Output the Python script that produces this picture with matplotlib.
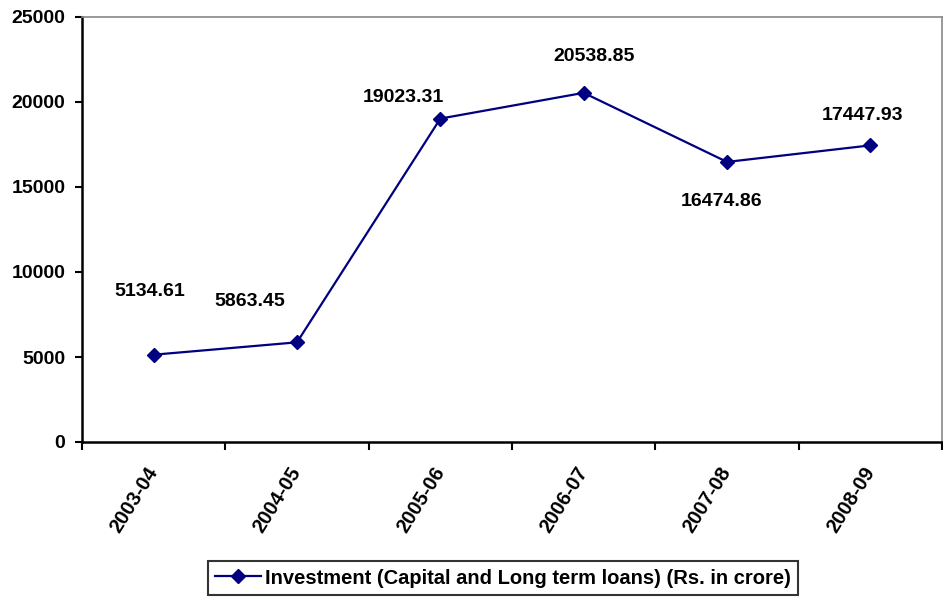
import matplotlib.pyplot as plt

plt.rcParams['font.family'] = ['Liberation Sans', 'DejaVu Sans']
plt.rcParams['font.weight'] = 'bold'

years = ["2003-04", "2004-05", "2005-06", "2006-07", "2007-08", "2008-09"]
investment = [5134.61, 5863.45, 19023.31, 20538.85, 16474.86, 17447.93]
# label offsets in points (dx, dy) relative to each point
label_offsets = [(-2.5, 45.5), (-34, 29.5), (-26.5, 15.5), (7.8, 26), (-3.6, -28.6), (-5.8, 21.6)]

fig = plt.figure(figsize=(9.43, 5.98), dpi=100)
ax = fig.add_axes([82 / 943, 1 - 442 / 598, 860 / 943, 425 / 598])

x = list(range(len(years)))
ax.plot(x, investment, color="#000080", linewidth=1.6, marker="D", markersize=7,
        label="Investment (Capital and Long term loans) (Rs. in crore)")

for xi, v, off in zip(x, investment, label_offsets):
    ax.annotate(f"{v:.2f}", (xi, v), xytext=off, textcoords="offset points",
                ha="center", va="center", fontsize=14, fontweight="bold")

ax.set_xlim(-0.5, len(years) - 0.5)
ax.set_ylim(0, 25000)
ax.set_yticks(range(0, 25001, 5000))
ax.tick_params(axis="y", labelsize=14, length=5, width=1.5, direction="out", pad=7)

ax.set_xticks([i - 0.5 for i in range(len(years) + 1)])
ax.set_xticklabels([])
ax.set_xticks(x, minor=True)
ax.set_xticklabels(years, minor=True, rotation=58, ha="right", va="center",
                   rotation_mode="anchor", fontsize=14.5, fontweight="bold")
ax.tick_params(axis="x", which="major", length=6, width=1.5, direction="out")
ax.tick_params(axis="x", which="minor", length=0, pad=19)

for s in ["left", "bottom"]:
    ax.spines[s].set_linewidth(1.8)
    ax.spines[s].set_color("black")
for s in ["top", "right"]:
    ax.spines[s].set_linewidth(1.2)
    ax.spines[s].set_color("#888888")

leg = fig.legend(loc="center", bbox_to_anchor=(503 / 943, 1 - 578 / 598),
                 frameon=True, fancybox=False, handlelength=2.3, handletextpad=0.2,
                 borderpad=0.35, borderaxespad=0, edgecolor="black",
                 prop={"weight": "bold", "size": 14.5})
leg.get_frame().set_linewidth(1.5)

fig.savefig("out.png", dpi=100)
